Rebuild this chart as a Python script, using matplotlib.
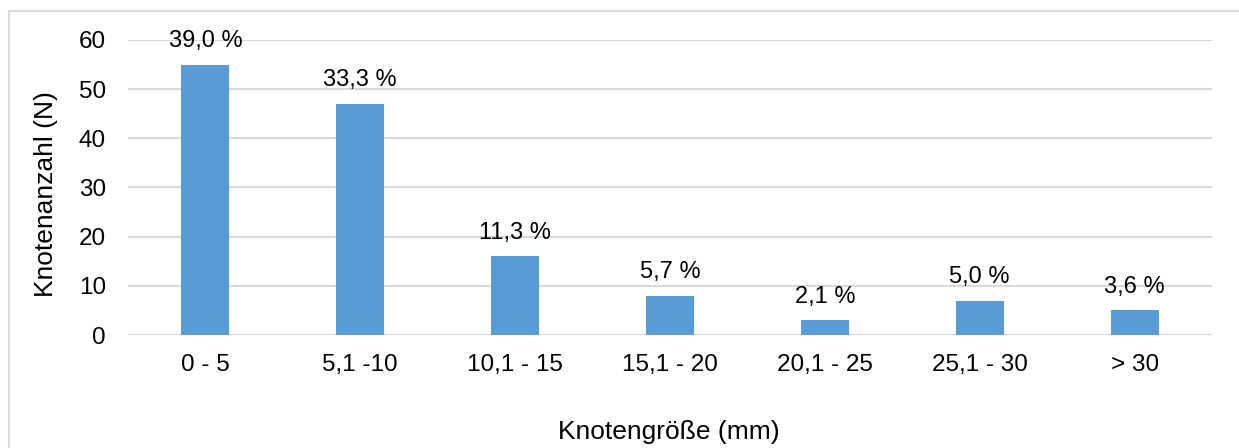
import matplotlib.pyplot as plt
from matplotlib.patches import Rectangle

plt.rcParams['font.family'] = ['Liberation Sans', 'DejaVu Sans']

categories = ['0 - 5', '5,1 -10', '10,1 - 15', '15,1 - 20', '20,1 - 25', '25,1 - 30', '> 30']
counts = [55, 47, 16, 8, 3, 7, 5]
percent_labels = ['39,0 %', '33,3 %', '11,3 %', '5,7 %', '2,1 %', '5,0 %', '3,6 %']

fig = plt.figure(figsize=(12.39, 4.48), dpi=100)
ax = fig.add_axes([128 / 1239, 1 - 335 / 448, (1212 - 128) / 1239, (335 - 40) / 448])

x = list(range(len(categories)))
bars = ax.bar(x, counts, width=0.31, color='#5b9bd5', zorder=3)
for b, lab in zip(bars, percent_labels):
    ax.annotate(lab, (b.get_x() + b.get_width() / 2, b.get_height()),
                xytext=(0, 9), textcoords='offset points',
                ha='center', va='bottom', fontsize=17)

ax.set_xlim(-0.5, len(categories) - 0.5)
ax.set_ylim(0, 60)
ax.set_yticks(range(0, 61, 10))
ax.set_xticks(x)
ax.set_xticklabels(categories)
ax.tick_params(axis='both', length=0, labelsize=17.5)
ax.tick_params(axis='y', pad=16)
ax.tick_params(axis='x', pad=14)
ax.yaxis.grid(True, color='#d9d9d9', linewidth=1.5, zorder=0)
for s in ax.spines.values():
    s.set_visible(False)

fig.text(46 / 1239, 1 - 194 / 448, 'Knotenanzahl (N)', rotation=90,
         ha='center', va='center', fontsize=19)
fig.text(669 / 1239, 1 - 432 / 448, 'Knotengröße (mm)',
         ha='center', va='center', fontsize=19)

fig.patches.append(Rectangle((9 / 1239, -0.01), 1.0, 1 - 11 / 448 + 0.01,
                             transform=fig.transFigure, fill=False,
                             edgecolor='#d9d9d9', linewidth=1.5))

fig.savefig('out.png', dpi=100)
